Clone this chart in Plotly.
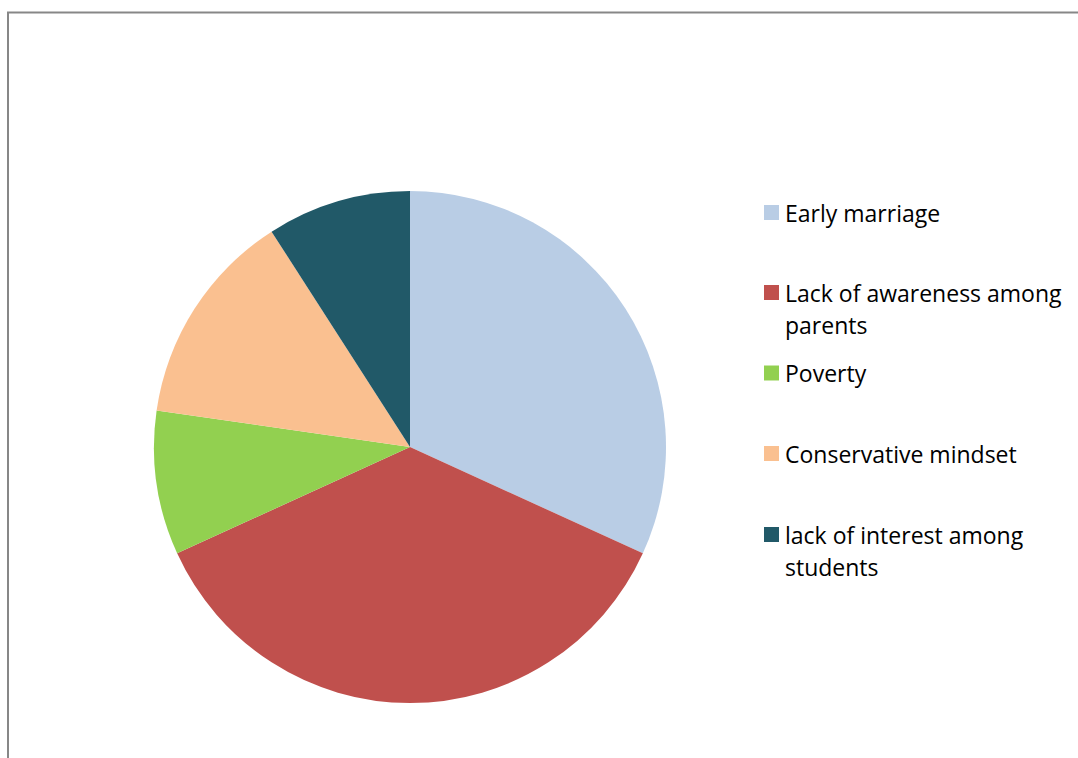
import plotly.graph_objects as go

labels = ["Early marriage", "Lack of awareness among parents", "Poverty",
          "Conservative mindset", "lack of interest among students"]
legend_lines = [["Early marriage"], ["Lack of awareness among", "parents"], ["Poverty"],
                ["Conservative mindset"], ["lack of interest among", "students"]]
values = [35, 40, 10, 15, 10]
colors = ["#B9CDE5", "#C0504D", "#92D050", "#FAC090", "#215968"]

W, H = 1078, 758

def px(x):
    return x / W

def py(y):
    return 1 - y / H

cx, cy, r = 410, 447, 256

fig = go.Figure(go.Pie(
    labels=labels, values=values, sort=False, direction="clockwise", rotation=0,
    marker=dict(colors=colors, line=dict(width=0)),
    textinfo="none", hoverinfo="label+value+percent", showlegend=False,
    domain=dict(x=[px(cx - r), px(cx + r)], y=[py(cy + r), py(cy - r)]),
))

shapes = [
    dict(type="line", xref="paper", yref="paper", x0=px(8), x1=px(8), y0=py(12), y1=py(H + 2),
         line=dict(color="#878787", width=2)),
    dict(type="line", xref="paper", yref="paper", x0=px(7), x1=px(W + 2), y0=py(12.5), y1=py(12.5),
         line=dict(color="#878787", width=2)),
]
annotations = []
swatch_centers = [212.5, 292.5, 373, 453.5, 534.5]
for lines, col, yc in zip(legend_lines, colors, swatch_centers):
    shapes.append(dict(type="rect", xref="paper", yref="paper", x0=px(764), x1=px(779),
                       y0=py(yc + 7.5), y1=py(yc - 7.5), fillcolor=col, line=dict(width=0)))
    for k, t in enumerate(lines):
        annotations.append(dict(text=t, xref="paper", yref="paper", x=px(783), y=py(yc + 32 * k),
                                xanchor="left", yanchor="middle", showarrow=False,
                                font=dict(family="Open Sans", size=23, color="#000000")))

fig.update_layout(
    width=W, height=H, margin=dict(l=0, r=0, t=0, b=0),
    paper_bgcolor="white", plot_bgcolor="white",
    shapes=shapes, annotations=annotations,
)
fig.write_html("out.html")
